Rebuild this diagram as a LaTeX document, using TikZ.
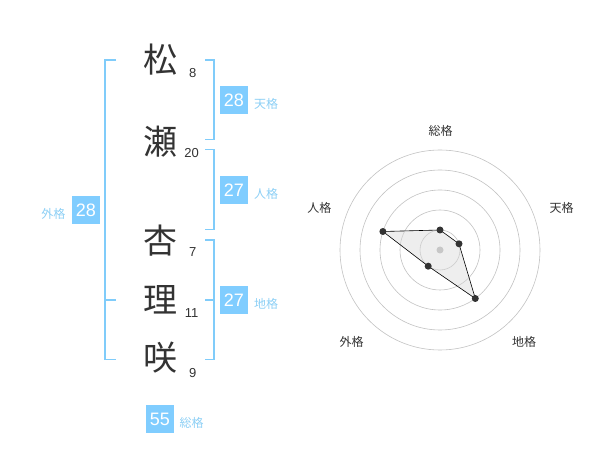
\documentclass[tikz,border=0pt]{standalone}
\usepackage{fontspec}
\setmainfont{Liberation Sans}
\newfontfamily\jp{Noto Sans CJK JP}
\definecolor{brk}{HTML}{80CCFA}
\definecolor{boxc}{HTML}{80CDFF}
\definecolor{lbl}{HTML}{8CCFF5}
\definecolor{ink}{HTML}{333333}
\begin{document}
\begin{tikzpicture}[x=1pt,y=-1pt,
  kanji/.style={font=\jp\fontsize{34}{34}\selectfont,text=ink,inner sep=0pt},
  stroke/.style={font=\fontsize{13}{13}\selectfont,text=ink,inner sep=0pt},
  numbox/.style={fill=boxc,text=white,minimum width=28pt,minimum height=28pt,inner sep=0pt,font=\fontsize{18}{18}\selectfont},
  kaku/.style={font=\jp\fontsize{12}{12}\selectfont,text=lbl,inner sep=0pt},
  bracket/.style={draw=brk,line width=1.8pt},
  ring/.style={draw=black!24,line width=0.6pt},
  axlbl/.style={font=\jp\fontsize{12}{12}\selectfont,text=ink,inner sep=0pt},
  dot/.style={circle,fill=ink,inner sep=0pt,minimum size=7pt}]
\useasboundingbox (0,0) rectangle (600,470);
% characters
\node[kanji] (c1) at (160,60) {松};
\node[kanji] (c2) at (160,142) {瀬};
\node[kanji] (c3) at (160,241) {杏};
\node[kanji] (c4) at (160,300) {理};
\node[kanji] (c5) at (160,358) {咲};
\node[stroke] (s1) at (192.7,72.7) {8};
\node[stroke] (s2) at (191.7,153.3) {20};
\node[stroke] (s3) at (192.7,252.3) {7};
\node[stroke] (s4) at (191.7,312.7) {11};
\node[stroke] (s5) at (192.7,373.3) {9};
% brackets
\draw[bracket] (116,60) -- (105,60) -- (105,359.5) -- (116,359.5);
\draw[bracket] (105,300) -- (116,300);
\draw[bracket] (205,60) -- (214.3,60) -- (214.3,139.5) -- (205,139.5);
\draw[bracket] (205,149.5) -- (214.3,149.5) -- (214.3,229.5) -- (205,229.5);
\draw[bracket] (205,240) -- (214.3,240) -- (214.3,359.5) -- (205,359.5);
\draw[bracket] (205,300) -- (214.3,300);
% boxes
\node[numbox] (ten) at (234,100) {28};
\node[kaku] (tenl) at (266,104) {天格};
\node[numbox] (jin) at (234,190) {27};
\node[kaku] (jinl) at (266,194) {人格};
\node[numbox] (chi) at (234,300) {27};
\node[kaku] (chil) at (266,304) {地格};
\node[numbox] (gai) at (86,210) {28};
\node[kaku] (gail) at (53.3,214) {外格};
\node[numbox] (sou) at (160,419) {55};
\node[kaku] (soul) at (191.7,423.3) {総格};
% radar
\coordinate (O) at (440,250);
\foreach \r in {20,40,60,80,100} \draw[ring] (O) circle (\r);
\coordinate (pS) at (440,230);
\coordinate (pT) at (459.0,243.8);
\coordinate (pC) at (475.3,298.5);
\coordinate (pG) at (428.2,266.2);
\coordinate (pJ) at (382.9,231.5);
\fill[black!15,opacity=0.45] (pS) -- (pT) -- (pC) -- (pG) -- (pJ) -- cycle;
\draw[black,line width=0.6pt] (pS) -- (pT) -- (pC) -- (pG) -- (pJ) -- cycle;
\node[circle,fill=black!22,inner sep=0pt,minimum size=7pt] (ctr) at (O) {};
\foreach \p in {pS,pT,pC,pG,pJ} \node[dot] at (\p) {};
\node[axlbl] (aS) at (440.7,130.7) {総格};
\node[axlbl] (aT) at (561.7,208.3) {天格};
\node[axlbl] (aC) at (524,341.7) {地格};
\node[axlbl] (aG) at (351.7,341.7) {外格};
\node[axlbl] (aJ) at (319.3,208.3) {人格};
\end{tikzpicture}
\end{document}
